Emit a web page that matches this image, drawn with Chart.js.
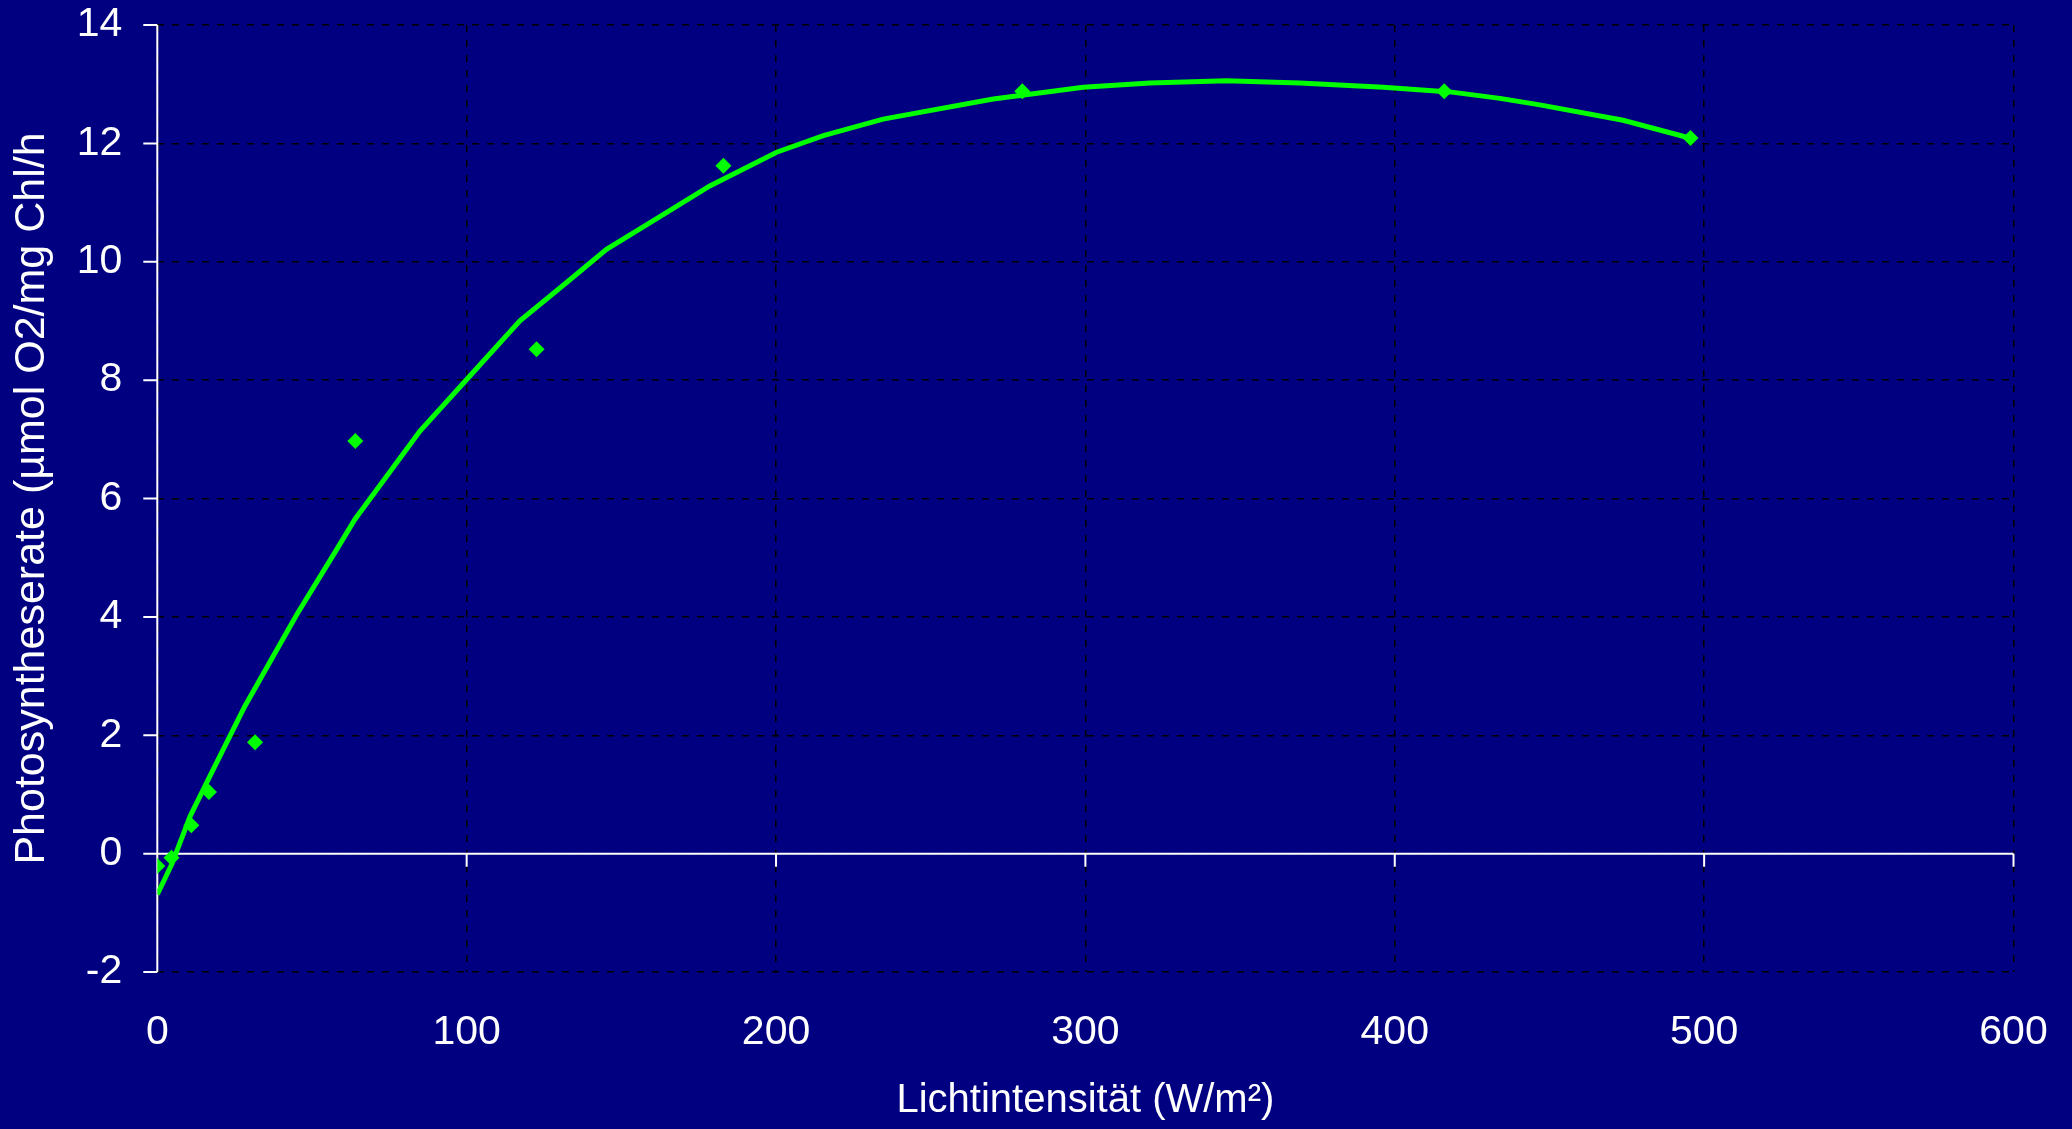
<!DOCTYPE html>
<html lang="de">
<head>
<meta charset="utf-8">
<title>Photosyntheserate und Lichtintensität</title>
<script src="https://cdn.jsdelivr.net/npm/chart.js@4.4.1/dist/chart.umd.min.js"></script>
<style>
    html, body { margin: 0; padding: 0; background: #000080; }
    canvas { display: block; }
</style>
</head>
<body>
<canvas id="lightChart" width="2072" height="1129"></canvas>
<script>
// Messwerte
const lightIntensity = [0, 4.6, 11, 16.7, 31.6, 64, 122.6, 183, 279.6, 416, 495.6];
const photoRate = [-0.21, -0.07, 0.48, 1.04, 1.88, 6.97, 8.52, 11.62, 12.88, 12.88, 12.09];

// Trendlinie (Polynom)
const trendX = [0, 4.6, 10.6, 17, 28.3, 45.1, 58, 63.9, 84.9, 100, 117.2, 132.3, 145.2, 159.3, 178.6,
    200.2, 215.3, 234.6, 270.2, 299.3, 320.8, 345.6, 369.3, 396.3, 417.8, 434, 446.9, 473.8, 493.2, 495.6];
const trendY = [-0.69, -0.19, 0.63, 1.31, 2.49, 4.04, 5.14, 5.65, 7.14, 8.01, 9.0, 9.65, 10.21, 10.66, 11.28,
    11.85, 12.13, 12.41, 12.75, 12.95, 13.02, 13.06, 13.02, 12.95, 12.87, 12.76, 12.65, 12.39, 12.12, 12.08];

// Achsen
const xTicks = [0, 100, 200, 300, 400, 500, 600];
const yTicks = [-2, 0, 2, 4, 6, 8, 10, 12, 14];
const xTitle = 'Lichtintensität (W/m²)';
const yTitle = 'Photosyntheserate (µmol O2/mg Chl/h';

const fontFamily = "'Liberation Sans', Arial, sans-serif";
const green = '#00ff00';

const toPoints = (xs, ys) => xs.map((x, i) => ({ x: x, y: ys[i] }));

// Hintergrund
const backgroundPlugin = {
    id: 'navyBackground',
    beforeDraw(chart) {
        const ctx = chart.ctx;
        ctx.save();
        ctx.fillStyle = '#000080';
        ctx.fillRect(0, 0, chart.width, chart.height);
        ctx.restore();
    }
};

// Weiße Achsen, die sich bei x = 0 und y = 0 kreuzen
const crossAxesPlugin = {
    id: 'crossAxes',
    beforeDatasetsDraw(chart) {
        const { ctx, scales: { x, y } } = chart;
        const x0 = x.getPixelForValue(0);
        const y0 = y.getPixelForValue(0);
        ctx.save();
        ctx.strokeStyle = '#ffffff';
        ctx.lineWidth = 2;
        ctx.beginPath();
        ctx.moveTo(x0, y.getPixelForValue(yTicks[yTicks.length - 1]));
        ctx.lineTo(x0, y.getPixelForValue(yTicks[0]));
        ctx.moveTo(x.getPixelForValue(xTicks[0]), y0);
        ctx.lineTo(x.getPixelForValue(xTicks[xTicks.length - 1]), y0);
        yTicks.forEach(v => {
            const py = y.getPixelForValue(v);
            ctx.moveTo(x0 - 14, py);
            ctx.lineTo(x0, py);
        });
        xTicks.forEach(v => {
            const px = x.getPixelForValue(v);
            ctx.moveTo(px, y0);
            ctx.lineTo(px, y0 + 13);
        });
        ctx.stroke();
        ctx.restore();
    }
};

const ctx = document.getElementById('lightChart');

new Chart(ctx, {
    type: 'scatter',
    data: {
        datasets: [{
            label: 'Trend',
            data: toPoints(trendX, trendY),
            showLine: true,
            borderColor: green,
            borderWidth: 5,
            pointRadius: 0,
            tension: 0,
            order: 2
        }, {
            label: 'Messwerte',
            data: toPoints(lightIntensity, photoRate),
            showLine: false,
            pointStyle: 'rectRot',
            pointRadius: 8,
            backgroundColor: green,
            borderWidth: 0,
            order: 1
        }]
    },
    options: {
        responsive: false,
        animation: false,
        devicePixelRatio: 1,
        layout: {
            padding: { top: 25, right: 58.5, bottom: 0, left: 0 }
        },
        plugins: {
            legend: { display: false },
            tooltip: { enabled: false }
        },
        scales: {
            x: {
                type: 'linear',
                min: 0,
                max: 600,
                afterFit(scale) {
                    scale.height = 157;
                    scale.paddingLeft = 0;
                    scale.paddingRight = 0;
                },
                afterBuildTicks(scale) { scale.ticks = xTicks.map(v => ({ value: v })); },
                ticks: {
                    color: '#ffffff',
                    padding: 36,
                    maxRotation: 0,
                    font: { family: fontFamily, size: 41, lineHeight: 1.2 }
                },
                grid: { color: '#000000', lineWidth: 1.5, drawTicks: false },
                border: { display: false, dash: [7, 8] },
                title: {
                    display: true,
                    text: xTitle,
                    color: '#ffffff',
                    padding: { top: 0, bottom: 4 },
                    font: { family: fontFamily, size: 40, lineHeight: 1.2 }
                }
            },
            y: {
                type: 'linear',
                min: -2,
                max: 14,
                afterFit(scale) {
                    scale.width = 157.3;
                    scale.paddingTop = 0;
                    scale.paddingBottom = 0;
                },
                afterBuildTicks(scale) { scale.ticks = yTicks.map(v => ({ value: v })); },
                ticks: {
                    color: '#ffffff',
                    padding: 35,
                    font: { family: fontFamily, size: 41, lineHeight: 1.2 }
                },
                grid: { color: '#000000', lineWidth: 1.5, drawTicks: false },
                border: { display: false, dash: [7, 8] },
                title: {
                    display: true,
                    text: yTitle,
                    color: '#ffffff',
                    padding: { top: 6, bottom: 0 },
                    font: { family: fontFamily, size: 43, lineHeight: 1.2 }
                }
            }
        }
    },
    plugins: [backgroundPlugin, crossAxesPlugin]
});
</script>
</body>
</html>
